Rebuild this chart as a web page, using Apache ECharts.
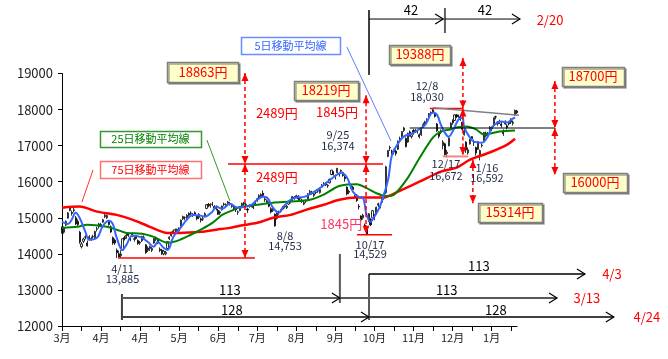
<!DOCTYPE html>
<html><head><meta charset="utf-8">
<script src="https://cdn.jsdelivr.net/npm/echarts/dist/echarts.min.js"></script>
<style>html,body{margin:0;padding:0;background:#fff}#c{width:668px;height:359px}</style>
</head><body><div id="c"></div>
<script>
const dates = ['3/3','3/4','3/5','3/6','3/7','3/10','3/11','3/12','3/13','3/14','3/17','3/18','3/19','3/20','3/24','3/25','3/26','3/27','3/28','3/31',
'4/1','4/2','4/3','4/4','4/7','4/8','4/9','4/10','4/11','4/14','4/15','4/16','4/17','4/18','4/21','4/22','4/23','4/24','4/25','4/28','4/30',
'5/1','5/2','5/7','5/8','5/9','5/12','5/13','5/14','5/15','5/16','5/19','5/20','5/21','5/22','5/23','5/26','5/27','5/28','5/29','5/30',
'6/2','6/3','6/4','6/5','6/6','6/9','6/10','6/11','6/12','6/13','6/16','6/17','6/18','6/19','6/20','6/23','6/24','6/25','6/26','6/27','6/30',
'7/1','7/2','7/3','7/4','7/7','7/8','7/9','7/10','7/11','7/14','7/15','7/16','7/17','7/18','7/22','7/23','7/24','7/25','7/28','7/29','7/30','7/31',
'8/1','8/4','8/5','8/6','8/7','8/8','8/11','8/12','8/13','8/14','8/15','8/18','8/19','8/20','8/21','8/22','8/25','8/26','8/27','8/28','8/29',
'9/1','9/2','9/3','9/4','9/5','9/8','9/9','9/10','9/11','9/12','9/16','9/17','9/18','9/19','9/22','9/24','9/25','9/26','9/29','9/30',
'10/1','10/2','10/3','10/6','10/7','10/8','10/9','10/10','10/14','10/15','10/16','10/17','10/20','10/21','10/22','10/23','10/24','10/27','10/28','10/29','10/30','10/31',
'11/4','11/5','11/6','11/7','11/10','11/11','11/12','11/13','11/14','11/17','11/18','11/19','11/20','11/21','11/25','11/26','11/27','11/28',
'12/1','12/2','12/3','12/4','12/5','12/8','12/9','12/10','12/11','12/12','12/15','12/16','12/17','12/18','12/19','12/22','12/24','12/25','12/26','12/29','12/30',
'1/5','1/6','1/7','1/8','1/9','1/13','1/14','1/15','1/16','1/19','1/20','1/21','1/22','1/23','1/26','1/27','1/28','1/29','1/30',
'2/2','2/3','2/4','2/5','2/6','2/9','2/10','2/12','2/13'];

const monthTicks = ['3月','4月','4月','5月','6月','7月','8月','9月','10月','11月','12月','1月'];

const openP = [14720,14600,14800,14990,15200,15150,15200,15000,14900,14600,14200,14350,14470,14300,14400,14420,14480,14420,14680,14750,
14810,14880,15030,15000,14900,14750,14450,14380,14100,14000,13950,14100,14450,14480,14550,14440,14500,14420,14470,14370,14320,
14360,14450,14250,14100,14150,14100,14300,14450,14380,14130,14100,14000,14000,14150,14420,14500,14600,14660,14650,14690,
14760,14970,15000,15000,15120,15130,15100,15140,15060,15010,14970,14960,15040,15260,15370,15330,15380,15310,15250,15210,15130,
15220,15380,15360,15400,15400,15350,15250,15280,15150,15200,15340,15400,15360,15240,15320,15350,15320,15360,15480,15550,15600,15680,
15500,15420,15420,15250,15200,15100,14980,15140,15180,15240,15300,15280,15380,15470,15490,15570,15580,15600,15520,15490,15380,
15460,15480,15700,15710,15620,15700,15740,15700,15850,15940,15960,15900,15970,16200,16280,16140,16250,16200,16290,16250,
16130,15850,15730,15850,15850,15600,15630,15320,15050,15000,14800,14700,14900,14960,15000,15080,15100,15350,15300,15450,15550,15700,
16700,16950,16850,16820,16850,16900,17200,17250,17420,17200,17100,17380,17250,17420,17400,17400,17300,17300,
17550,17600,17700,17800,17900,17990,17900,17600,17350,17400,17000,17050,16780,17000,17500,17700,17700,17850,17840,17800,17650,
17300,17100,16800,17050,17250,17100,16950,16900,16750,17000,17150,17350,17300,17450,17500,17550,17800,17650,17650,
17600,17400,17600,17550,17600,17650,17620,17850,17960];

const closeP = [14653,14721,14897,15134,15274,15120,15224,14830,14815,14327,14277,14411,14462,14224,14475,14423,14477,14622,14696,14827,
14791,14946,15071,15063,14812,14607,14299,14300,14032,13910,13996,14418,14417,14516,14512,14388,14546,14404,14429,14288,14304,
14485,14457,14033,14163,14199,14149,14425,14405,14298,14096,14006,14075,14042,14337,14462,14602,14636,14670,14681,14632,
14935,15035,15006,15069,15077,15124,15069,15099,14974,15097,14934,14975,15115,15361,15349,15369,15376,15266,15308,15095,15162,
15326,15369,15348,15437,15379,15314,15302,15216,15164,15297,15395,15379,15370,15215,15343,15328,15284,15457,15529,15618,15646,15620,
15523,15474,15320,15159,15232,14778,15130,15161,15213,15314,15318,15322,15449,15454,15586,15539,15613,15521,15534,15459,15424,
15476,15668,15728,15676,15668,15705,15749,15788,15909,15948,15911,15888,16067,16321,16205,16167,16374,16229,16310,16173,
16082,15661,15708,15890,15783,15595,15478,15300,14936,15073,14738,14532,15111,14804,15195,14975,15291,15388,15329,15553,15658,16413,
16862,16937,16792,16880,16780,17124,17197,17392,17490,16973,17344,17288,17300,17357,17407,17383,17248,17459,
17590,17663,17720,17887,17920,17935,17813,17412,17257,17371,17099,16755,16819,17210,17621,17635,17854,17808,17818,17729,17451,
17408,16883,16885,17167,17197,17087,16795,17108,16864,17014,17366,17280,17329,17511,17468,17768,17795,17606,17674,
17558,17335,17678,17504,17648,17711,17652,17979,17913];

const lowP = [14560,14560,14770,14980,15180,15060,15150,14800,14760,14280,14150,14300,14400,14200,14370,14360,14420,14400,14620,14700,
14740,14860,14990,14970,14780,14580,14250,14250,13885,13900,13890,14090,14370,14420,14470,14350,14460,14340,14390,14250,14250,
14330,14400,14000,14050,14080,14050,14280,14350,14270,14050,13970,13960,13960,14130,14380,14480,14560,14600,14600,14610,
14740,14940,14930,14970,15030,15060,15020,15060,14930,14960,14870,14910,15020,15240,15290,15280,15320,15230,15200,15080,15080,
15200,15320,15300,15370,15340,15280,15200,15160,15080,15180,15310,15340,15320,15130,15280,15290,15240,15340,15440,15520,15570,15580,
15440,15380,15290,15120,15160,14753,14950,15080,15140,15210,15260,15240,15360,15400,15460,15500,15540,15490,15470,15410,15350,
15410,15460,15660,15640,15580,15650,15690,15670,15830,15880,15880,15830,15950,16180,16170,16060,16230,16140,16250,16140,
16000,15620,15650,15800,15750,15550,15440,15230,14900,14950,14670,14529,14880,14770,14990,14930,15080,15300,15260,15420,15500,15650,
16680,16850,16720,16750,16720,16880,17120,17220,17380,16950,17080,17250,17200,17300,17350,17330,17200,17270,
17500,17570,17650,17780,17850,17880,17780,17380,17200,17320,16900,16720,16672,16980,17480,17580,17680,17760,17770,17690,17420,
17280,16800,16750,17030,17150,16990,16720,16880,16592,16950,17130,17230,17250,17400,17400,17530,17730,17550,17600,
17500,17270,17580,17450,17560,17600,17560,17830,17880];

const highP = [14760,14760,14930,15160,15310,15200,15280,15050,14960,14640,14330,14450,14520,14370,14520,14480,14530,14640,14750,14860,
14860,14970,15110,15090,14930,14790,14480,14420,14150,14090,14100,14430,14500,14560,14580,14480,14590,14470,14520,14400,14360,
14500,14510,14270,14210,14230,14190,14440,14480,14420,14180,14140,14110,14080,14350,14490,14610,14680,14700,14700,14740,
14950,15060,15040,15100,15150,15180,15130,15180,15080,15130,15010,15030,15150,15380,15410,15400,15440,15350,15340,15250,15200,
15340,15420,15400,15470,15440,15380,15330,15310,15200,15320,15420,15440,15410,15280,15380,15380,15350,15470,15560,15650,15680,15760,
15560,15510,15450,15290,15280,15120,15150,15200,15240,15330,15360,15350,15470,15500,15600,15600,15640,15630,15570,15530,15470,
15510,15680,15770,15750,15700,15760,15790,15800,15930,15990,15990,15930,16090,16330,16290,16200,16374,16260,16340,16280,
16170,15870,15780,15920,15880,15650,15660,15380,15070,15110,14840,14780,15130,14990,15220,15110,15310,15420,15360,15570,15670,16440,
16880,17000,16890,16910,16890,17140,17250,17400,17520,17230,17360,17420,17340,17460,17460,17440,17340,17470,
17640,17690,17760,17900,17950,18030,17940,17630,17400,17450,17150,17080,16880,17230,17650,17730,17870,17880,17860,17840,17670,
17540,17120,16950,17190,17260,17170,16970,17130,16890,17060,17380,17390,17380,17540,17520,17780,17830,17680,17720,
17650,17450,17700,17600,17680,17760,17700,18000,17990];

const ma5Days = [0,3,5,7,9,12,14,18,21,24,26,28,31,33,36,40,44,47,49,52,54,57,60,64,67,71,73,77,79,82,86,90,94,97,100,103,105,108,111,113,117,120,124,129,133,136,141,143,146,149,152,154,156,158,159,162,164,167,169,172,175,179,182,186,190,192,194,196,198,200,203,205,206,209,211,215,218,220,223,225,228,230,232];
const ma5Vals = [14890,14830,14950,15140,15000,14610,14390,14450,14780,14920,14830,14450,14110,14250,14500,14470,14330,14200,14330,14170,14110,14470,14670,14950,15080,15060,15030,15170,15310,15250,15390,15280,15310,15360,15500,15580,15560,15280,15140,15280,15500,15560,15580,15720,15860,16000,16200,16250,16110,15720,15580,15560,15080,14890,14950,15220,15500,16060,16750,17050,17250,17330,17420,17580,17920,17860,17580,17360,17250,17390,17720,17780,17500,17220,17110,17080,17250,17500,17640,17670,17640,17720,17780];

const ma25Days = [0,8,13,23,28,33,41,47,54,59,66,71,77,82,87,91,100,108,117,127,134,141,146,151,156,161,166,170,177,183,190,194,199,202,207,212,216,219,224,232];
const ma25Vals = [14720,14750,14810,14750,14670,14580,14560,14470,14310,14360,14530,14670,14860,15080,15200,15300,15360,15420,15450,15500,15640,15860,15920,15930,15820,15680,15600,15640,16100,16650,17230,17390,17450,17500,17530,17450,17310,17330,17390,17420];

const ma75Days = [0,9,18,28,36,45,54,60,71,79,86,91,100,108,117,125,134,142,151,158,164,173,183,194,202,209,219,228,232];
const ma75Vals = [15280,15310,15170,15080,14950,14750,14580,14580,14610,14670,14720,14780,14860,15000,15080,15220,15360,15500,15560,15560,15560,15750,16000,16280,16390,16610,16810,17030,17190];

const FONT = "'Noto Sans CJK JP','Noto Sans',sans-serif";
const chart = echarts.init(document.getElementById('c'), null, {renderer:'canvas'});

const zip = (d, v) => d.map((x, k) => [x, v[k]]);

chart.setOption({
  animation: false,
  backgroundColor: '#ffffff',
  grid: {left: 62, right: 151, top: 73.5, bottom: 33},
  xAxis: {
    type: 'category', data: dates, boundaryGap: false,
    axisLine: {lineStyle: {color: '#000', width: 1}},
    axisTick: {interval: 9, length: 5, lineStyle: {color: '#000'}},
    axisLabel: {interval: 19, fontSize: 11, color: '#222', fontFamily: FONT, margin: 6, hideOverlap: false,
      formatter: (v, i) => monthTicks[Math.round(i / 20)] || ''},
    splitLine: {show: false}
  },
  yAxis: {
    type: 'value', min: 12000, max: 19000, interval: 1000,
    axisLine: {show: true, lineStyle: {color: '#000'}},
    axisTick: {show: true, length: 4, lineStyle: {color: '#000'}},
    axisLabel: {fontSize: 13, color: '#222', fontFamily: FONT, margin: 9, formatter: v => String(v)},
    splitLine: {show: false}
  },
  series: [
    {type: 'candlestick', data: dates.map((d, i) => [openP[i], closeP[i], lowP[i], highP[i]]),
     barWidth: 1.6,
     itemStyle: {color: '#ffffff', color0: '#000000', borderColor: '#000000', borderColor0: '#000000', borderWidth: 0.8}},
    {type: 'line', data: zip(ma75Days, ma75Vals), smooth: 0.3, showSymbol: false, lineStyle: {color: '#FF0000', width: 2.5}, z: 3},
    {type: 'line', data: zip(ma25Days, ma25Vals), smooth: 0.3, showSymbol: false, lineStyle: {color: '#008000', width: 2}, z: 4},
    {type: 'line', data: zip(ma5Days, ma5Vals), smooth: 0.4, showSymbol: false, lineStyle: {color: '#3366FF', width: 2}, z: 5}
  ]
});

// ---- annotations placed in data space (day index, price) ----
const xa = chart.convertToPixel({xAxisIndex: 0}, dates[0]);
const xb = chart.convertToPixel({xAxisIndex: 0}, dates[200]);
const dx = (xb - xa) / 200;
const ya = chart.convertToPixel({yAxisIndex: 0}, 12000);
const yb = chart.convertToPixel({yAxisIndex: 0}, 19000);
const dy = (yb - ya) / 7000;
const P = (i, v) => [xa + i * dx, ya + (v - 12000) * dy];

const G = [];
const RED = '#FF0000';
function seg(i1, v1, i2, v2, color, w, dash) {
  const a = P(i1, v1), b = P(i2, v2);
  G.push({type: 'line', z: 100, shape: {x1: a[0], y1: a[1], x2: b[0], y2: b[1]},
    style: {stroke: color, lineWidth: w, lineDash: dash || null}});
}
function tri(i, v, dir, color) {
  const p = P(i, v); const s = dir === 'up' ? 1 : -1;
  G.push({type: 'polygon', z: 101, shape: {points: [[p[0], p[1]], [p[0] - 3.5, p[1] + s * 8], [p[0] + 3.5, p[1] + s * 8]]},
    style: {fill: color}});
}
function dbl(i, vTop, vBot) {
  seg(i, vTop, i, vBot, RED, 1.5, [4, 3]);
  tri(i, vTop, 'up', RED); tri(i, vBot, 'down', RED);
}
function chev(i, v, color) {
  const p = P(i, v);
  G.push({type: 'polyline', z: 101, shape: {points: [[p[0] - 8, p[1] - 5], [p[0], p[1]], [p[0] - 8, p[1] + 5]]},
    style: {stroke: color || '#000', lineWidth: 1.2, fill: null}});
}
function txt(i, v, s, color, size) {
  const p = P(i, v);
  G.push({type: 'text', z: 102, x: p[0], y: p[1],
    style: {text: s, fill: color, fontSize: size, fontFamily: FONT, align: 'center', verticalAlign: 'middle'}});
}
function box(i, v, w, h, s, color, border, fill, size, shadow) {
  const p = P(i, v);
  G.push({type: 'rect', z: 101, shape: {x: Math.round(p[0] - w / 2) + 0.5, y: Math.round(p[1] - h / 2) + 0.5, width: w, height: h},
    style: {fill: fill, stroke: border, lineWidth: 1.5,
      shadowColor: shadow ? 'rgba(0,0,0,0.35)' : 'rgba(0,0,0,0)', shadowOffsetX: shadow ? 1.5 : 0, shadowOffsetY: shadow ? 1.5 : 0, shadowBlur: 0}});
  txt(i, v, s, color, size);
}

// horizontal reference lines
seg(85, 16491, 164.4, 16491, RED, 1.5);
seg(28.7, 13885, 98.8, 13885, RED, 1.5);
seg(151, 14529, 169, 14529, RED, 1.5);
seg(188.4, 18030, 205.3, 18030, RED, 1.5);
seg(195, 16700, 208, 16700, '#FF8080', 2);
seg(178, 17489, 252.4, 17489, '#000', 1);
seg(190, 18050, 234, 17840, '#808080', 1.5);

// red dashed arrows
dbl(93.7, 19013, 16491); dbl(93.7, 16491, 13885);
dbl(155.7, 18400, 16491); dbl(155.7, 16491, 14560);
dbl(205.3, 19430, 18030); dbl(205.3, 18030, 16740);
dbl(210.4, 16600, 15400);
dbl(252.4, 18790, 17489); dbl(252.4, 17489, 16186);

// top 42-day spans
seg(157.2, 20760, 157.2, 18960, '#404040', 2);
seg(157.2, 20510, 195.4, 20510, '#000', 1); chev(195.2, 20510);
seg(196.1, 20815, 196.1, 20122, '#606060', 2);
seg(196.1, 20510, 234.5, 20510, '#000', 1); chev(234.5, 20510);
txt(178.7, 20760, '42', '#000', 13);
txt(216.6, 20760, '42', '#000', 13);
txt(249.9, 20480, '2/20', RED, 13);

// bottom 113 / 128-day spans
seg(30.7, 12887, 30.7, 12166, '#404040', 2);
seg(30.7, 12776, 253.5, 12776, '#595959', 2); chev(142.3, 12776); chev(253.5, 12776);
seg(142.3, 13996, 142.3, 12638, '#595959', 2);
seg(30.7, 12249, 282.6, 12249, '#404040', 2); chev(157.2, 12249); chev(282.6, 12249);
seg(157.2, 13441, 157.2, 12166, '#595959', 2);
seg(157.2, 13441, 267.8, 13441, '#000', 1.5); chev(267.8, 13441);
txt(86, 12998, '113', '#000', 13);
txt(87, 12444, '128', '#000', 13);
txt(197, 12998, '113', '#000', 13);
txt(213.5, 13663, '113', '#000', 13);
txt(222.2, 12444, '128', '#000', 13);
txt(281.6, 13441, '4/3', RED, 13);
txt(268.8, 12776, '3/13', RED, 13);
txt(299.5, 12249, '4/24', RED, 13);

// date / price labels
const LC = '#1F2A44';
[['4/11', 31, 13580], ['13,885', 31, 13303], ['8/8', 114.2, 14495], ['14,753', 114.2, 14218],
 ['9/25', 141.3, 17294], ['16,374', 141.3, 16990], ['10/17', 157.7, 14245], ['14,529', 157.7, 13996],
 ['12/8', 186.9, 18653], ['18,030', 186.9, 18348], ['12/17', 196.6, 16491], ['16,672', 196.6, 16158],
 ['1/16', 217.6, 16380], ['16,592', 217.6, 16103]].forEach(a => txt(a[1], a[2], a[0], LC, 11));

// red differences
txt(110, 17904, '2489円', RED, 13);
txt(110, 16130, '2489円', RED, 13);
txt(140.8, 17932, '1845円', RED, 13);
txt(143, 14827, '1845円', '#FF3366', 13);

// yellow price boxes
const YF = '#FFFFCC', YB = '#7F7F7F';
box(72.2, 19041, 71, 20, '18863円', RED, YB, YF, 13, true);
box(135.2, 18542, 64, 19, '18219円', RED, YB, YF, 13, true);
box(183.3, 19540, 61, 19, '19388円', RED, YB, YF, 13, true);
box(271.9, 18930, 62, 19, '18700円', RED, YB, YF, 13, true);
box(272.9, 15992, 64, 19, '16000円', RED, YB, YF, 13, true);
box(229.4, 15160, 64, 19, '15314円', RED, YB, YF, 13, true);

// moving-average callouts
seg(145.9, 19734, 168.5, 17128, '#5B7FFF', 1);
seg(74.2, 17156, 86, 15465, '#339933', 1);
seg(15.9, 16324, 10.2, 15437, '#FF3333', 1);
box(117, 19775, 99, 17, '5日移動平均線', '#3366FF', '#6A8CFF', '#ffffff', 11, false);
box(45.3, 17184, 101, 16, '25日移動平均線', '#008000', '#339933', '#ffffff', 11, false);
box(45.3, 16338, 101, 17, '75日移動平均線', '#FF0000', '#FF7070', '#ffffff', 11, false);

chart.setOption({graphic: G});
</script></body></html>
